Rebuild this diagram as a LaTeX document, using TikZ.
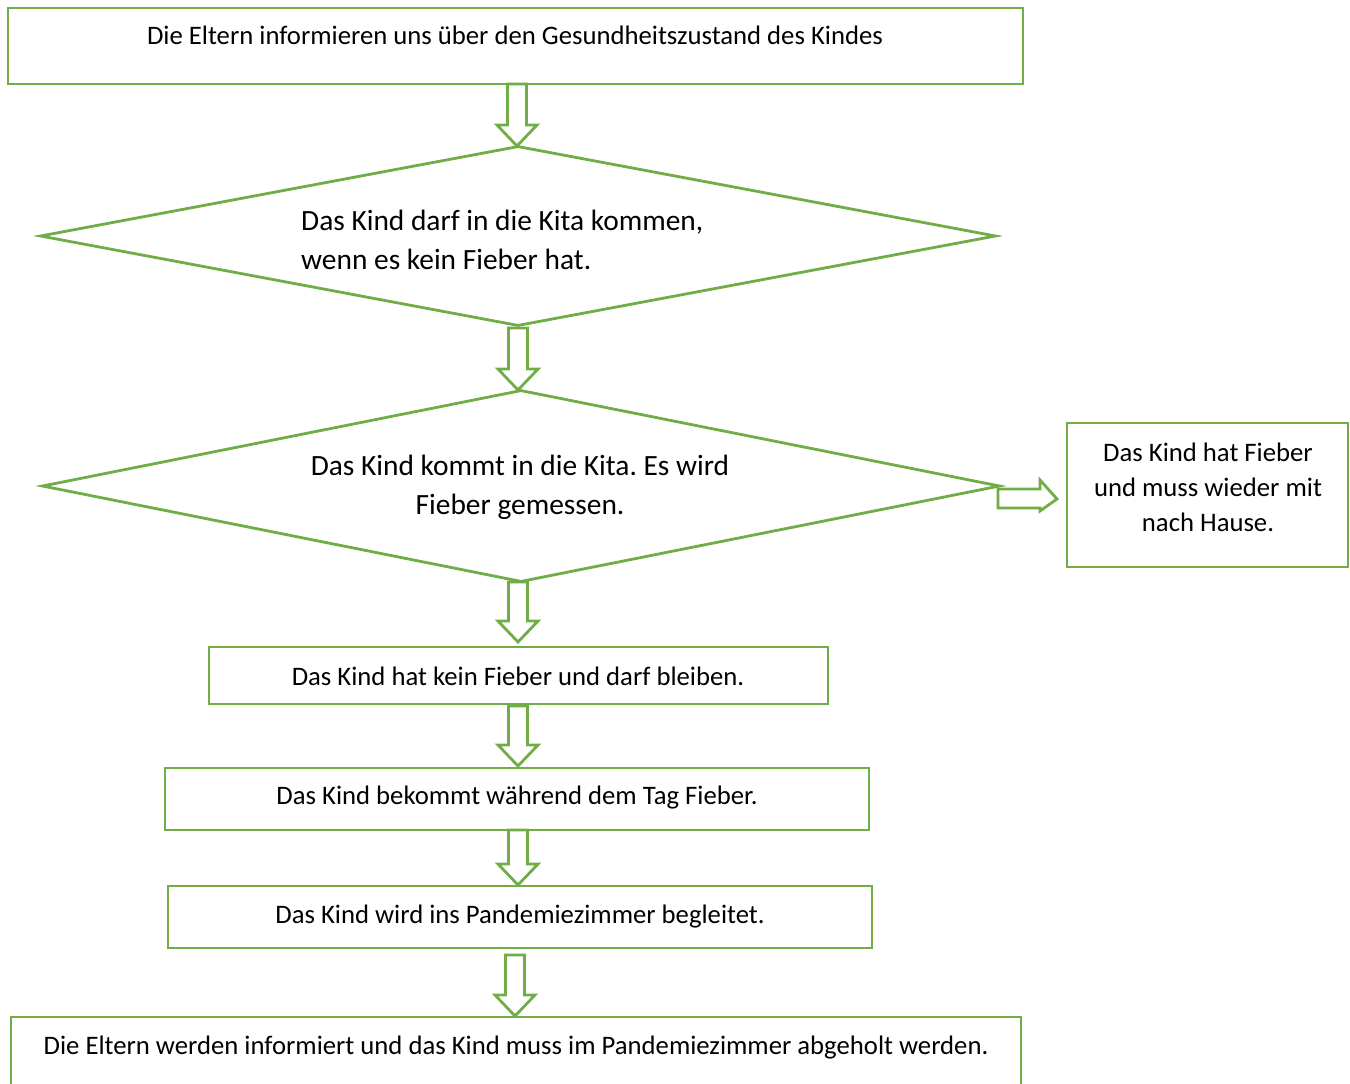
\documentclass[tikz,border=0pt]{standalone}
\usepackage{fontspec}
\setmainfont{Carlito}
\frenchspacing
\usetikzlibrary{shapes.geometric}
\definecolor{grn}{HTML}{70AD47}
\newcommand\blkdown[3]{%
  \draw[blk] (#1-9.5,#2) -- (#1+9.5,#2) -- (#1+9.5,#3-21) -- (#1+20,#3-21) -- (#1,#3) -- (#1-20,#3-21) -- (#1-9.5,#3-21) -- cycle;}
\begin{document}
\begin{tikzpicture}[x=1pt,y=-1pt,
  box/.style={draw=grn, line width=2.8pt, rectangle, inner sep=0pt},
  dia/.style={draw=grn, line width=2.8pt, diamond, inner sep=0pt},
  blk/.style={draw=grn, line width=2.8pt, fill=white, line join=miter},
  small/.style={font=\fontsize{26.7}{35}\selectfont, inner sep=0pt},
  large/.style={font=\fontsize{29.4}{39}\selectfont, inner sep=0pt}]
\useasboundingbox (0,0) rectangle (1350,1084);
\clip (0,0) rectangle (1350,1084);
% shapes
\node[box, minimum width=1015pt, minimum height=76pt] (b1) at (515.5,46) {};
\node[dia, minimum width=956pt, minimum height=180pt] (d1) at (518,236) {};
\node[dia, minimum width=958pt, minimum height=192pt] (d2) at (521,486) {};
\node[box, minimum width=281pt, minimum height=144pt] (r) at (1207.5,495) {};
\node[box, minimum width=619pt, minimum height=57pt] (b5) at (518.5,675.5) {};
\node[box, minimum width=704pt, minimum height=62pt] (b6) at (517,799) {};
\node[box, minimum width=704pt, minimum height=62pt] (b7) at (520,917) {};
\node[box, minimum width=1010pt, minimum height=73pt] (b8) at (516,1053.5) {};
% texts
\node[small] (t1) at (515,35.5) {Die Eltern informieren uns über den Gesundheitszustand des Kindes};
\node[large, anchor=west, align=left] (t2) at (301,240) {Das Kind darf in die Kita kommen,\\wenn es kein Fieber hat.};
\node[large, align=center] (t3) at (520,487) {Das Kind kommt in die Kita. Es wird\\Fieber gemessen.};
\node[small, align=center] (t4) at (1208,487) {Das Kind hat Fieber\\und muss wieder mit\\nach Hause.};
\node[small] (t5) at (518,676) {Das Kind hat kein Fieber und darf bleiben.};
\node[small] (t6) at (517,798) {Das Kind bekommt während dem Tag Fieber.};
\node[small] (t7) at (520,917) {Das Kind wird ins Pandemiezimmer begleitet.};
\node[small] (t8) at (516,1048) {Die Eltern werden informiert und das Kind muss im Pandemiezimmer abgeholt werden.};
% block arrows
\blkdown{517}{84}{146}
\blkdown{518}{328}{390}
\blkdown{518}{582}{642}
\blkdown{518}{706}{766}
\blkdown{518}{830}{885}
\blkdown{515}{955}{1016}
\draw[blk] (998,489) -- (1040,489) -- (1040,480) -- (1057,499) -- (1040,511) -- (1040,508) -- (998,508) -- cycle;
\end{tikzpicture}
\end{document}
